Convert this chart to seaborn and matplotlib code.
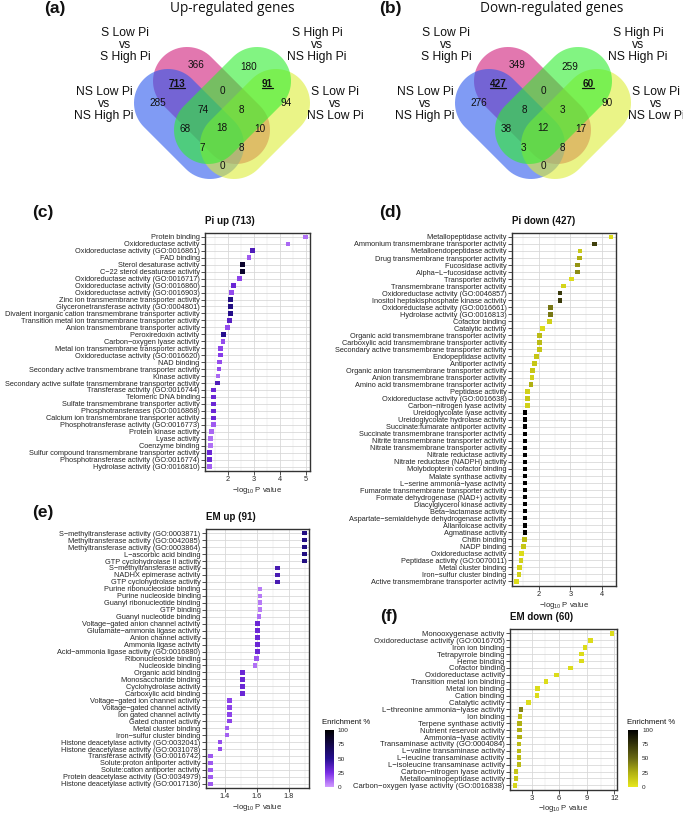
import matplotlib
matplotlib.use("Agg")
import matplotlib.pyplot as plt
import numpy as np
import pandas as pd
import seaborn as sns
from matplotlib.patches import Polygon
from matplotlib.lines import Line2D
from matplotlib.colors import LinearSegmentedColormap, Normalize
from matplotlib.cm import ScalarMappable
from matplotlib.ticker import AutoMinorLocator

sns.set_theme(style="white")
plt.rcParams["font.family"] = ["Liberation Sans", "DejaVu Sans"]
plt.rcParams["mathtext.fontset"] = "custom"
plt.rcParams["mathtext.rm"] = "Liberation Sans"
plt.rcParams["mathtext.default"] = "regular"

W, H = 683, 815

# ---------------- Venn data ----------------
# region order: pink, green, blue, yellow, blue&pink, green&yellow, pink&green,
# blue&pink&green, pink&green&yellow, blue&green, pink&yellow, all four,
# blue&green&yellow, blue&pink&yellow, blue&yellow
up_counts = [366, 180, 285, 94, 713, 91, 0, 74, 8, 68, 10, 18, 7, 8, 0]
down_counts = [349, 259, 276, 90, 427, 60, 0, 8, 3, 38, 17, 12, 3, 8, 0]
underlined = [4, 5]
set_labels = ["S Low Pi\nvs\nS High Pi", "NS Low Pi\nvs\nNS High Pi",
              "S High Pi\nvs\nNS High Pi", "S Low Pi\nvs\nNS Low Pi"]

# ---------------- dot plot data ----------------
terms_c = ["Protein binding", "Oxidoreductase activity", "Oxidoreductase activity (GO:0016861)",
           "FAD binding", "Sterol desaturase activity", "C\u221222 sterol desaturase activity",
           "Oxidoreductase activity (GO:0016717)", "Oxidoreductase activity (GO:0016860)",
           "Oxidoreductase activity (GO:0016903)", "Zinc ion transmembrane transporter activity",
           "Glyceronetransferase activity (GO:0004801)",
           "Divalent inorganic cation transmembrane transporter activity",
           "Transition metal ion transmembrane transporter activity",
           "Anion transmembrane transporter activity", "Peroxiredoxin activity",
           "Carbon\u2212oxygen lyase activity", "Metal ion transmembrane transporter activity",
           "Oxidoreductase activity (GO:0016620)", "NAD binding",
           "Secondary active transmembrane transporter activity", "Kinase activity",
           "Secondary active sulfate transmembrane transporter activity",
           "Transferase activity (GO:0016744)", "Telomeric DNA binding",
           "Sulfate transmembrane transporter activity", "Phosphotransferases (GO:0016868)",
           "Calcium ion transmembrane transporter activity",
           "Phosphotransferase activity (GO:0016773)", "Protein kinase activity",
           "Lyase activity", "Coenzyme binding",
           "Sulfur compound transmembrane transporter activity",
           "Phosphotransferase activity (GO:0016774)", "Hydrolase activity (GO:0016810)"]
logp_c = [4.98, 4.32, 2.95, 2.81, 2.57, 2.57, 2.45, 2.22, 2.13, 2.10, 2.10, 2.10, 2.05, 1.98,
          1.82, 1.81, 1.71, 1.71, 1.67, 1.65, 1.62, 1.60, 1.44, 1.44, 1.44, 1.44, 1.44, 1.44,
          1.36, 1.33, 1.32, 1.30, 1.30, 1.30]
enrich_c = [10, 12, 38, 15, 85, 85, 20, 30, 18, 55, 55, 52, 35, 18, 50, 18, 20, 22, 18, 18,
            12, 38, 30, 30, 30, 30, 30, 15, 12, 10, 10, 30, 30, 14]

terms_d = ["Metallopeptidase activity", "Ammonium transmembrane transporter activity",
           "Metalloendopeptidase activity", "Drug transmembrane transporter activity",
           "Fucosidase activity", "Alpha\u2212L\u2212fucosidase activity", "Transporter activity",
           "Transmembrane transporter activity", "Oxidoreductase activity (GO:0046857)",
           "Inositol heptakisphosphate kinase activity", "Oxidoreductase activity (GO:0016661)",
           "Hydrolase activity (GO:0016813)", "Cofactor binding", "Catalytic activity",
           "Organic acid transmembrane transporter activity",
           "Carboxylic acid transmembrane transporter activity",
           "Secondary active transmembrane transporter activity", "Endopeptidase activity",
           "Antiporter activity", "Organic anion transmembrane transporter activity",
           "Anion transmembrane transporter activity",
           "Amino acid transmembrane transporter activity", "Peptidase activity",
           "Oxidoreductase activity (GO:0016638)", "Carbon\u2212nitrogen lyase activity",
           "Ureidoglycolate lyase activity", "Ureidoglycolate hydrolase activity",
           "Succinate:fumarate antiporter activity", "Succinate transmembrane transporter activity",
           "Nitrite transmembrane transporter activity",
           "Nitrate transmembrane transporter activity", "Nitrate reductase activity",
           "Nitrate reductase (NADPH) activity", "Molybdopterin cofactor binding",
           "Malate synthase activity", "L\u2212serine ammonia\u2212lyase activity",
           "Fumarate transmembrane transporter activity", "Formate dehydrogenase (NAD+) activity",
           "Diacylglycerol kinase activity", "Beta\u2212lactamase activity",
           "Aspartate\u2212semialdehyde dehydrogenase activity", "Allantoicase activity",
           "Agmatinase activity", "Chitin binding", "NADP binding", "Oxidoreductase activity",
           "Peptidase activity (GO:0070011)", "Metal cluster binding",
           "Iron\u2212sulfur cluster binding", "Active transmembrane transporter activity"]
logp_d = [4.29, 3.76, 3.31, 3.29, 3.22, 3.22, 3.03, 2.77, 2.67, 2.67, 2.37, 2.37, 2.34, 2.11,
          2.01, 2.01, 2.01, 1.92, 1.86, 1.80, 1.78, 1.74, 1.64, 1.63, 1.63,
          1.55, 1.55, 1.55, 1.55, 1.55, 1.55, 1.55, 1.55, 1.55, 1.55, 1.55, 1.55, 1.55, 1.55,
          1.55, 1.55, 1.55, 1.55, 1.54, 1.50, 1.44, 1.43, 1.37, 1.36, 1.28]
enrich_d = [5, 70, 14, 25, 35, 38, 5, 8, 72, 72, 45, 45, 10, 5, 20, 20, 15, 15, 15, 15, 10, 25,
            10, 15, 10, 100, 100, 100, 100, 100, 100, 100, 100, 100, 100, 100, 100, 100, 100,
            100, 100, 100, 100, 20, 15, 5, 10, 8, 10, 5]

terms_e = ["S\u2212methyltransferase activity (GO:0003871)", "Methyltransferase activity (GO:0042085)",
           "Methyltransferase activity (GO:0003864)", "L\u2212ascorbic acid binding",
           "GTP cyclohydrolase II activity", "S\u2212methyltransferase activity",
           "NADHX epimerase activity", "GTP cyclohydrolase activity",
           "Purine ribonucleoside binding", "Purine nucleoside binding",
           "Guanyl ribonucleotide binding", "GTP binding", "Guanyl nucleotide binding",
           "Voltage\u2212gated anion channel activity", "Glutamate\u2212ammonia ligase activity",
           "Anion channel activity", "Ammonia ligase activity",
           "Acid\u2212ammonia ligase activity (GO:0016880)", "Ribonucleoside binding",
           "Nucleoside binding", "Organic acid binding", "Monosaccharide binding",
           "Cyclohydrolase activity", "Carboxylic acid binding",
           "Voltage\u2212gated ion channel activity", "Voltage\u2212gated channel activity",
           "Ion gated channel activity", "Gated channel activity", "Metal cluster binding",
           "Iron\u2212sulfur cluster binding", "Histone deacetylase activity (GO:0032041)",
           "Histone deacetylase activity (GO:0031078)", "Transferase activity (GO:0016742)",
           "Solute:proton antiporter activity", "Solute:cation antiporter activity",
           "Protein deacetylase activity (GO:0034979)", "Histone deacetylase activity (GO:0017136)"]
logp_e = [1.90, 1.90, 1.90, 1.90, 1.90, 1.73, 1.73, 1.73, 1.62, 1.62, 1.62, 1.62, 1.614,
          1.605, 1.605, 1.605, 1.605, 1.605, 1.60, 1.59, 1.51, 1.51, 1.51, 1.51,
          1.43, 1.43, 1.43, 1.43, 1.415, 1.415, 1.37, 1.37, 1.31, 1.31, 1.31, 1.31, 1.31]
enrich_e = [55, 55, 55, 55, 55, 40, 40, 40, 8, 8, 8, 8, 10, 30, 30, 30, 30, 30, 16, 10,
            30, 30, 30, 30, 20, 20, 20, 20, 14, 14, 18, 18, 15, 15, 15, 15, 15]

terms_f = ["Monooxygenase activity", "Oxidoreductase activity (GO:0016705)", "Iron ion binding",
           "Tetrapyrrole binding", "Heme binding", "Cofactor binding", "Oxidoreductase activity",
           "Transition metal ion binding", "Metal ion binding", "Cation binding",
           "Catalytic activity", "L\u2212threonine ammonia\u2212lyase activity", "Ion binding",
           "Terpene synthase activity", "Nutrient reservoir activity", "Ammonia\u2212lyase activity",
           "Transaminase activity (GO:0004084)", "L\u2212valine transaminase activity",
           "L\u2212leucine transaminase activity", "L\u2212isoleucine transaminase activity",
           "Carbon\u2212nitrogen lyase activity", "Metalloaminopeptidase activity",
           "Carbon\u2212oxygen lyase activity (GO:0016838)"]
logp_f = [11.75, 9.41, 8.78, 8.42, 8.42, 7.22, 5.71, 4.58, 3.66, 3.59, 2.67, 1.84, 1.73,
          1.68, 1.68, 1.68, 1.62, 1.62, 1.62, 1.62, 1.32, 1.29, 1.18]
enrich_f = [5, 5, 5, 5, 5, 5, 5, 5, 5, 5, 5, 40, 18, 25, 25, 25, 20, 20, 20, 20, 15, 15, 8]

purple_cmap = LinearSegmentedColormap.from_list(
    "enrich_pu", [(0, "#d39dff"), (0.25, "#7b2de6"), (0.5, "#260f90"), (1, "#000000")])
yellow_cmap = LinearSegmentedColormap.from_list(
    "enrich_ye", [(0, "#e6e61c"), (0.25, "#b0b012"), (0.5, "#696914"), (1, "#000000")])

fig = plt.figure(figsize=(W / 100, H / 100), dpi=100)

# ---------------- Venn diagrams ----------------
vax = fig.add_axes([0, 1 - 185 / H, 1, 185 / H])
vax.set_xlim(0, W)
vax.set_ylim(185, 0)
vax.axis("off")

# offsets of the region labels from the diagram centre (px)
region_pos = [(-26, 65), (27, 67), (-64, 103), (64, 103), (-45, 84), (45, 84), (0, 91),
              (-19, 110), (19, 110), (-37, 129), (38, 129), (0, 128), (-20, 148), (19, 148),
              (0, 166)]
underline_texts = []


def stadium(p1, p2, r, color):
    # pill shape between two cap centres
    p1, p2 = np.asarray(p1, float), np.asarray(p2, float)
    d = p2 - p1
    ang = np.arctan2(d[1], d[0])
    a2 = np.linspace(ang - np.pi / 2, ang + np.pi / 2, 40)
    a1 = np.linspace(ang + np.pi / 2, ang + 3 * np.pi / 2, 40)
    pts = np.vstack([p2 + r * np.c_[np.cos(a2), np.sin(a2)],
                     p1 + r * np.c_[np.cos(a1), np.sin(a1)]])
    return Polygon(pts, closed=True, facecolor=color, alpha=0.6, lw=0)


def venn(cx, counts, title, letter, title_x, letter_x):
    r = 34
    # drawing order pink, blue, yellow, green
    shapes = [((cx - 35, 81), (cx + 14, 130), "#d01c7a"),
              ((cx - 54, 103), (cx - 12, 145), "#2b58ee"),
              ((cx + 54, 103), (cx + 12, 145), "#dcee37"),
              ((cx + 35, 81), (cx - 14, 130), "#2fee2f")]
    for p1, p2, col in shapes:
        vax.add_patch(stadium(p1, p2, r, col))
    for i, (n, (dx, y)) in enumerate(zip(counts, region_pos)):
        t = vax.text(cx + dx, y, str(n), ha="center", va="center", fontsize=7.2,
                     fontweight="bold" if i in underlined else "normal", color="#111111")
        if i in underlined:
            underline_texts.append(t)
    lab_pos = [(-97, 45), (-118, 104), (95, 45), (113, 104)]
    for lab, (dx, y) in zip(set_labels, lab_pos):
        vax.text(cx + dx, y, lab, ha="center", va="center", fontsize=8.7,
                 linespacing=1.05, color="#111111")
    vax.text(title_x, 8, title, ha="center", va="center", fontsize=9.8,
             family=["Open Sans", "DejaVu Sans"], color="#111111")
    vax.text(letter_x, 8, letter, ha="center", va="center", fontsize=12.5,
             fontweight="bold", color="#111111")


venn(222, up_counts, "Up-regulated genes", "(a)", 232, 55)
venn(543, down_counts, "Down-regulated genes", "(b)", 552, 390)


# ---------------- dot plots ----------------
def dot_panel(rect, terms, logp, enrich, cmap, title, ticks, letter, letter_xy, fs=5.3):
    l, t, r, b = rect
    ax = fig.add_axes([l / W, 1 - b / H, (r - l) / W, (b - t) / H])
    df = pd.DataFrame({"term": terms, "logp": logp, "enrich": enrich})
    sns.scatterplot(data=df, x="logp", y="term", hue="enrich", palette=cmap,
                    hue_norm=(0, 100), marker="s", s=11, linewidth=0, legend=False,
                    ax=ax, zorder=3)
    n = len(terms)
    ax.set_ylim(n - 0.4, -0.6)
    lo, hi = min(logp), max(logp)
    pad = 0.05 * (hi - lo)
    ax.set_xlim(lo - pad, hi + pad)
    ax.set_xticks(ticks)
    ax.set_xticklabels([f"{v:g}" for v in ticks])
    ax.xaxis.set_minor_locator(AutoMinorLocator(2))
    ax.set_axisbelow(True)
    ax.grid(True, which="major", color="#d6d6d6", lw=0.55)
    ax.grid(True, which="minor", axis="x", color="#e6e6e6", lw=0.35)
    for sp in ax.spines.values():
        sp.set_color("#333333")
        sp.set_linewidth(1.0)
    ax.tick_params(axis="both", which="major", length=2.6, width=0.6, color="#333333",
                   labelsize=fs, pad=1.2, labelcolor="#262626", left=True, bottom=True)
    ax.tick_params(axis="x", which="minor", length=0)
    ax.set_ylabel("")
    ax.set_xlabel("\u2212log$_{10}$ P value", fontsize=5.5, color="#262626", labelpad=1.2)
    ax.set_title(title, loc="left", fontsize=7, fontweight="bold", pad=6.5, color="#111111")
    fig.text(letter_xy[0] / W, 1 - letter_xy[1] / H, letter, ha="center", va="center",
             fontsize=12.5, fontweight="bold", color="#111111")
    return ax


dot_panel((205, 232.7, 310, 470.7), terms_c, logp_c, enrich_c, purple_cmap,
          "Pi up (713)", [2, 3, 4, 5], "(c)", (43, 212))
dot_panel((511.7, 232.7, 615.7, 585.7), terms_d, logp_d, enrich_d, yellow_cmap,
          "Pi down (427)", [2, 3, 4], "(d)", (390, 212))
dot_panel((205.7, 529, 309.3, 788), terms_e, logp_e, enrich_e, purple_cmap,
          "EM up (91)", [1.4, 1.6, 1.8], "(e)", (43, 513))
dot_panel((510, 629.3, 617, 789.5), terms_f, logp_f, enrich_f, yellow_cmap,
          "EM down (60)", [3, 6, 9, 12], "(f)", (389, 617), fs=5.5)


# ---------------- colour bars ----------------
def colorbar(rect, cmap, title_xy):
    l, t, r, b = rect
    cax = fig.add_axes([l / W, 1 - b / H, (r - l) / W, (b - t) / H])
    sm = ScalarMappable(norm=Normalize(0, 100), cmap=cmap)
    cb = fig.colorbar(sm, cax=cax, ticks=[0, 25, 50, 75, 100])
    cb.outline.set_visible(False)
    cax.tick_params(labelsize=4.6, length=2, width=0.5, color="white", direction="in",
                    pad=3, labelcolor="#262626")
    fig.text(title_xy[0] / W, 1 - title_xy[1] / H, "Enrichment %", ha="left", va="center",
             fontsize=5.6, color="#111111")


colorbar((325, 730, 333.5, 787.3), purple_cmap, (321.7, 722.7))
colorbar((628.3, 730, 638, 786.7), yellow_cmap, (627.3, 722.7))

# underline the highlighted Venn counts
fig.canvas.draw()
renderer = fig.canvas.get_renderer()
inv = fig.transFigure.inverted()
for t in underline_texts:
    bb = t.get_window_extent(renderer)
    (x0, y0), (x1, _) = inv.transform([(bb.x0, bb.y0 + 1), (bb.x1, bb.y0 + 1)])
    fig.add_artist(Line2D([x0, x1], [y0, y0], transform=fig.transFigure, lw=0.9,
                          color="#111111"))

fig.savefig("out.png", dpi=100)
